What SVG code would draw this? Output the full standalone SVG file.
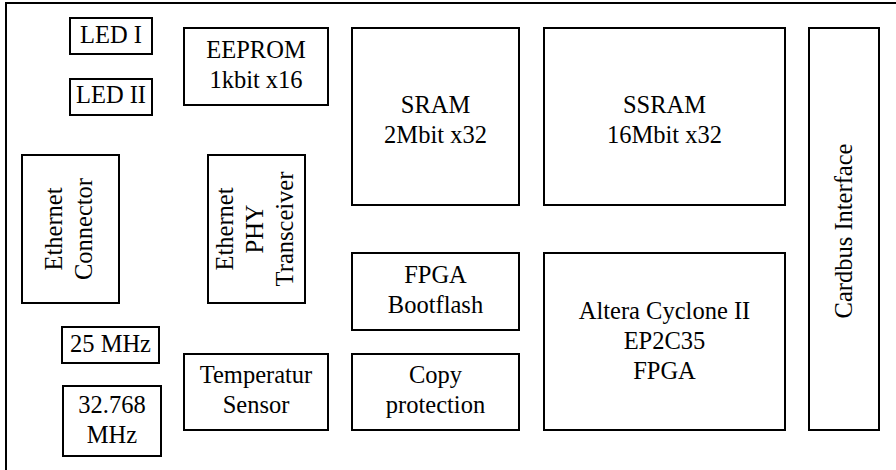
<svg xmlns="http://www.w3.org/2000/svg" width="896" height="470" viewBox="0 0 896 470">
  <style>
    .box { fill: #fff; stroke: #000; stroke-width: 2; }
    .frame { fill: none; stroke: #000; stroke-width: 2; }
    .lbl { font-family: "Liberation Serif", "Times New Roman", serif; font-size: 24.5px; fill: #000; text-anchor: middle; }
  </style>
  <rect width="896" height="470" fill="#fff"/>
  <!-- board outline (runs past the right and bottom edges) -->
  <rect class="frame" x="6" y="3" width="900" height="480"/>

  <g id="led1">
    <rect class="box" x="70" y="18" width="82" height="36"/>
    <text class="lbl" x="111" y="43">LED I</text>
  </g>
  <g id="led2">
    <rect class="box" x="70" y="79" width="82" height="36"/>
    <text class="lbl" x="111" y="103">LED II</text>
  </g>
  <g id="eeprom">
    <rect class="box" x="184" y="28" width="144" height="77"/>
    <text class="lbl" x="256" y="58">EEPROM</text>
    <text class="lbl" x="256" y="88">1kbit x16</text>
  </g>
  <g id="eth-connector">
    <rect class="box" x="22" y="155" width="97" height="148"/>
    <text class="lbl" transform="translate(62 229) rotate(-90)">Ethernet</text>
    <text class="lbl" transform="translate(92 229) rotate(-90)">Connector</text>
  </g>
  <g id="eth-phy">
    <rect class="box" x="208" y="155" width="97" height="148"/>
    <text class="lbl" transform="translate(233 229) rotate(-90)">Ethernet</text>
    <text class="lbl" transform="translate(263 229) rotate(-90)">PHY</text>
    <text class="lbl" transform="translate(293 229) rotate(-90)">Transceiver</text>
  </g>
  <g id="osc25">
    <rect class="box" x="62" y="327" width="97" height="36"/>
    <text class="lbl" x="110.5" y="352">25 MHz</text>
  </g>
  <g id="osc32">
    <rect class="box" x="63" y="386" width="98" height="70"/>
    <text class="lbl" x="112" y="413">32.768</text>
    <text class="lbl" x="112" y="443">MHz</text>
  </g>
  <g id="temp-sensor">
    <rect class="box" x="184" y="354" width="144" height="76"/>
    <text class="lbl" x="256" y="383">Temperatur</text>
    <text class="lbl" x="256" y="413">Sensor</text>
  </g>
  <g id="sram">
    <rect class="box" x="352" y="28" width="167" height="177"/>
    <text class="lbl" x="435.5" y="113">SRAM</text>
    <text class="lbl" x="435.5" y="143">2Mbit x32</text>
  </g>
  <g id="ssram">
    <rect class="box" x="544" y="28" width="241" height="177"/>
    <text class="lbl" x="664.5" y="113">SSRAM</text>
    <text class="lbl" x="664.5" y="143">16Mbit x32</text>
  </g>
  <g id="bootflash">
    <rect class="box" x="352" y="253" width="167" height="77"/>
    <text class="lbl" x="435.5" y="283">FPGA</text>
    <text class="lbl" x="435.5" y="313">Bootflash</text>
  </g>
  <g id="copy-protection">
    <rect class="box" x="352" y="354" width="167" height="76"/>
    <text class="lbl" x="435.5" y="383">Copy</text>
    <text class="lbl" x="435.5" y="413">protection</text>
  </g>
  <g id="fpga">
    <rect class="box" x="544" y="253" width="241" height="177"/>
    <text class="lbl" x="664.5" y="319">Altera Cyclone II</text>
    <text class="lbl" x="664.5" y="349">EP2C35</text>
    <text class="lbl" x="664.5" y="379">FPGA</text>
  </g>
  <g id="cardbus">
    <rect class="box" x="809" y="28" width="70" height="402"/>
    <text class="lbl" transform="translate(852 231) rotate(-90)">Cardbus Interface</text>
  </g>
  <!-- blocks are placed side by side; no wiring drawn -->
  <g id="connectors"/>
</svg>
